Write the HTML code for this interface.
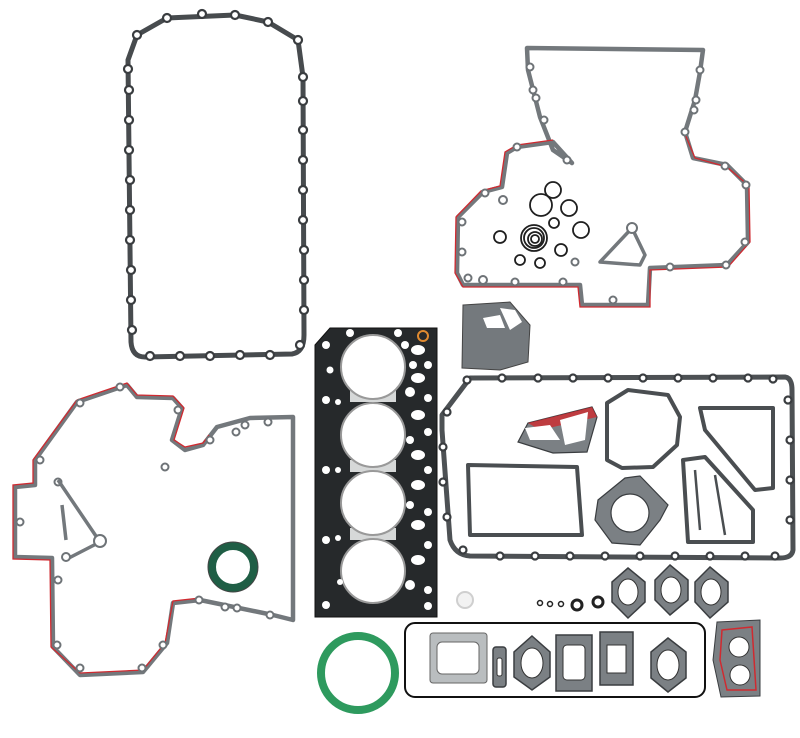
<!DOCTYPE html>
<html><head><meta charset="utf-8"><style>
html,body{margin:0;padding:0;background:#fff;width:800px;height:738px;overflow:hidden}
svg{display:block}
</style></head><body>
<svg width="800" height="738" viewBox="0 0 800 738" xmlns="http://www.w3.org/2000/svg">
<defs>
<style>
.g{fill:none;stroke:#474b4e;stroke-width:5;stroke-linejoin:round}
.gi{fill:none;stroke:#73787c;stroke-width:4.5;stroke-linejoin:round}
.r{fill:none;stroke:#d02a30;stroke-width:1.3}
.h{fill:#fff;stroke:#3a3d40;stroke-width:2.2}
.hs{fill:#fff;stroke:#6e7377;stroke-width:2}
.pl{fill:#7b8084;stroke:#3a3d40;stroke-width:1.5}
</style>
</defs>

<!-- Oil pan gasket top-left -->
<path class="g" d="M137,35 L167,18 L235,15 L268,22 L298,40 L303,77 L304,335 Q304,352 292,354 L145,357 Q132,357 131,342 L128,60 Z"/>
<g class="h">
<circle cx="137" cy="35" r="4"/><circle cx="167" cy="18" r="4"/><circle cx="202" cy="14" r="4"/><circle cx="235" cy="15" r="4"/><circle cx="268" cy="22" r="4"/><circle cx="298" cy="40" r="4"/>
<circle cx="303" cy="77" r="4"/><circle cx="303" cy="101" r="4"/><circle cx="303" cy="130" r="4"/><circle cx="303" cy="160" r="4"/><circle cx="303" cy="190" r="4"/><circle cx="303" cy="220" r="4"/><circle cx="304" cy="250" r="4"/><circle cx="304" cy="280" r="4"/><circle cx="304" cy="310" r="4"/><circle cx="300" cy="345" r="4"/>
<circle cx="270" cy="355" r="4"/><circle cx="240" cy="355" r="4"/><circle cx="210" cy="356" r="4"/><circle cx="180" cy="356" r="4"/><circle cx="150" cy="356" r="4"/>
<circle cx="132" cy="330" r="4"/><circle cx="131" cy="300" r="4"/><circle cx="131" cy="270" r="4"/><circle cx="130" cy="240" r="4"/><circle cx="130" cy="210" r="4"/><circle cx="130" cy="180" r="4"/><circle cx="129" cy="150" r="4"/><circle cx="129" cy="120" r="4"/><circle cx="129" cy="90" r="4"/><circle cx="128" cy="69" r="4"/>
</g>

<!-- Top-right timing cover gasket -->
<path class="gi" d="M527,48 L703,50 L700,72 L695,100 L685,132 L693,158 L727,165 L747,185 L748,242 L727,265 L650,268 L648,305 L582,305 L580,285 L463,285 L457,273 L458,217 L483,192 L502,187 L507,153 L517,147 L553,142 L572,163 L553,150 L540,117 L528,70 Z"/>
<path class="r" d="M685,134 L695,158 L727,167 L749,186 L750,242 L728,267 L650,270 L650,307 L580,307 L578,287 L463,287 L455,273 L456,217 L481,191 L500,186 L505,152 L517,145 L553,140"/>
<g class="hs">
<circle cx="530" cy="67" r="3.5"/><circle cx="533" cy="90" r="3.5"/><circle cx="536" cy="98" r="3.5"/><circle cx="544" cy="120" r="3.5"/><circle cx="567" cy="160" r="3.5"/><circle cx="517" cy="147" r="3.5"/><circle cx="485" cy="193" r="3.5"/><circle cx="503" cy="200" r="4"/><circle cx="462" cy="222" r="3.5"/><circle cx="462" cy="252" r="3.5"/><circle cx="468" cy="278" r="3.5"/><circle cx="483" cy="280" r="4"/><circle cx="515" cy="282" r="3.5"/><circle cx="563" cy="282" r="3.5"/><circle cx="575" cy="262" r="3.5"/>
<circle cx="700" cy="70" r="3.5"/><circle cx="696" cy="100" r="3.5"/><circle cx="694" cy="110" r="3.5"/><circle cx="685" cy="132" r="3.5"/><circle cx="725" cy="166" r="3.5"/><circle cx="746" cy="185" r="3.5"/><circle cx="745" cy="242" r="3.5"/><circle cx="726" cy="265" r="3.5"/><circle cx="670" cy="267" r="3.5"/><circle cx="613" cy="300" r="3.5"/>
</g>
<g fill="none" stroke="#1f1f1f" stroke-width="1.8">
<circle cx="553" cy="190" r="8"/><circle cx="541" cy="205" r="11"/><circle cx="569" cy="208" r="8"/><circle cx="554" cy="223" r="5"/><circle cx="581" cy="230" r="8"/><circle cx="500" cy="237" r="6"/><circle cx="520" cy="260" r="5"/><circle cx="540" cy="263" r="5"/><circle cx="561" cy="250" r="6"/>
<circle cx="534" cy="238" r="13"/><circle cx="534" cy="238" r="10"/><circle cx="535" cy="239" r="7"/><circle cx="535" cy="239" r="4"/>
</g>
<path class="gi" style="stroke-width:3.5" d="M600,262 L632,228 L645,255 L640,265 Z"/><circle class="hs" cx="632" cy="228" r="5"/>

<!-- small plate -->
<path d="M463,305 L510,302 L530,325 L528,362 L500,370 L462,368 Z" fill="#74797d" stroke="#444" stroke-width="1"/>
<path d="M483,318 L500,315 L505,328 L487,328 Z" fill="#fff"/>
<path d="M500,308 L515,310 L522,322 L510,330 Z" fill="#fff"/>

<!-- Head gasket -->
<path d="M330,328 L437,328 L437,617 L315,617 L315,345 Z" fill="#26292b" stroke="#111" stroke-width="1"/>
<g fill="#d6d8d8"><rect x="350" y="390" width="46" height="12"/><rect x="350" y="460" width="46" height="12"/><rect x="350" y="528" width="46" height="12"/></g>
<g fill="#fff" stroke="#999" stroke-width="2">
<circle cx="373" cy="367" r="32"/><circle cx="373" cy="435" r="32"/><circle cx="373" cy="503" r="32"/><circle cx="373" cy="571" r="32"/>
</g>
<g fill="#fff">
<circle cx="326" cy="345" r="4"/><circle cx="330" cy="370" r="3.5"/><circle cx="326" cy="400" r="4"/><circle cx="326" cy="470" r="4"/><circle cx="326" cy="540" r="4"/><circle cx="326" cy="605" r="4"/>
<circle cx="350" cy="333" r="4"/><circle cx="398" cy="333" r="4"/><circle cx="405" cy="345" r="4"/>
<ellipse cx="418" cy="350" rx="7" ry="5"/><circle cx="413" cy="365" r="4"/><circle cx="428" cy="365" r="4"/><ellipse cx="418" cy="378" rx="7" ry="5"/><circle cx="410" cy="392" r="5"/><circle cx="428" cy="398" r="4"/><ellipse cx="418" cy="415" rx="7" ry="5"/><circle cx="428" cy="432" r="4"/><circle cx="410" cy="440" r="4"/><ellipse cx="418" cy="455" rx="7" ry="5"/><circle cx="428" cy="470" r="4"/><ellipse cx="418" cy="485" rx="7" ry="5"/><circle cx="410" cy="505" r="4"/><circle cx="428" cy="512" r="4"/><ellipse cx="418" cy="525" rx="7" ry="5"/><circle cx="428" cy="545" r="4"/><ellipse cx="418" cy="560" rx="7" ry="5"/><circle cx="410" cy="585" r="5"/><circle cx="428" cy="590" r="4"/><circle cx="428" cy="606" r="4"/>
<circle cx="338" cy="402" r="3"/><circle cx="338" cy="470" r="3"/><circle cx="338" cy="538" r="3"/><circle cx="340" cy="582" r="3"/>
</g>
<circle cx="423" cy="336" r="5" fill="none" stroke="#e08a30" stroke-width="2"/>

<!-- Lower-right oil pan gasket -->
<path class="g" style="stroke:#4d5154;stroke-width:5" d="M470,378 L785,377 Q792,378 792,390 L793,550 Q792,558 780,558 L470,556 Q455,555 450,540 L442,430 L442,415 Z"/>
<g class="h">
<circle cx="502" cy="378" r="3.5"/><circle cx="538" cy="378" r="3.5"/><circle cx="573" cy="378" r="3.5"/><circle cx="608" cy="378" r="3.5"/><circle cx="643" cy="378" r="3.5"/><circle cx="678" cy="378" r="3.5"/><circle cx="713" cy="378" r="3.5"/><circle cx="748" cy="378" r="3.5"/><circle cx="773" cy="379" r="3.5"/>
<circle cx="467" cy="380" r="3.5"/><circle cx="447" cy="412" r="3.5"/><circle cx="443" cy="447" r="3.5"/><circle cx="443" cy="482" r="3.5"/><circle cx="447" cy="517" r="3.5"/><circle cx="463" cy="550" r="3.5"/>
<circle cx="500" cy="556" r="3.5"/><circle cx="535" cy="556" r="3.5"/><circle cx="570" cy="556" r="3.5"/><circle cx="605" cy="556" r="3.5"/><circle cx="640" cy="556" r="3.5"/><circle cx="675" cy="556" r="3.5"/><circle cx="710" cy="556" r="3.5"/><circle cx="745" cy="556" r="3.5"/><circle cx="775" cy="556" r="3.5"/>
<circle cx="788" cy="400" r="3.5"/><circle cx="790" cy="440" r="3.5"/><circle cx="790" cy="480" r="3.5"/><circle cx="790" cy="520" r="3.5"/>
</g>
<!-- inner gaskets -->
<path d="M518,442 L528,423 L592,407 L597,417 L587,452 L553,453 Z" fill="#7b8084" stroke="#3a3d40" stroke-width="1.2"/>
<path d="M528,423 L592,407 L597,417 L540,430 Z" fill="#d02a30" opacity="0.8"/>
<path d="M525,428 L550,425 L560,440 L530,440 Z" fill="#fff"/><path d="M560,420 L588,412 L585,440 L565,445 Z" fill="#fff"/>
<path class="gi" style="stroke:#4a4e51;stroke-width:4" d="M628,390 L668,395 L680,417 L677,445 L653,467 L622,468 L607,460 L607,403 Z"/>
<path class="gi" style="stroke:#4a4e51;stroke-width:4" d="M468,465 L577,467 L582,535 L470,535 Z"/>
<path d="M625,478 L640,476 L668,505 L660,520 L640,545 L612,543 L595,520 L598,500 Z" fill="#7b8084" stroke="#3a3d40" stroke-width="1.2"/>
<circle cx="630" cy="513" r="19" fill="#fff" stroke="#3a3d40" stroke-width="1.2"/>
<path class="gi" style="stroke:#4a4e51;stroke-width:4" d="M700,408 L773,408 L773,488 L755,490 L705,430 Z"/>
<path class="gi" style="stroke:#4a4e51;stroke-width:4" d="M683,460 L705,457 L753,510 L753,542 L688,542 Z"/>
<path class="gi" style="stroke:#4a4e51;stroke-width:2.5" d="M695,470 L700,530 M715,475 L725,535"/>

<!-- Left timing gasket -->
<path class="gi" d="M127,385 L137,397 L173,398 L182,408 L172,440 L185,450 L203,445 L217,427 L250,418 L293,417 L293,620 L273,615 L200,600 L173,603 L167,643 L143,672 L80,675 L53,647 L52,558 L15,557 L15,487 L35,485 L35,460 L77,402 Z"/>
<path class="r" d="M77,400 L127,383 L137,395 L173,396 L184,408 L174,440 L185,447 L203,443 L209,435"/>
<path class="r" d="M200,598 L173,601 L165,643 L143,670 L80,673 L51,647 L50,560 L13,559 L13,485 L33,483 L33,460 L77,400"/>
<g class="hs">
<circle cx="80" cy="403" r="3.5"/><circle cx="120" cy="387" r="3.5"/><circle cx="178" cy="410" r="3.5"/><circle cx="165" cy="467" r="3.5"/><circle cx="210" cy="440" r="3.5"/><circle cx="236" cy="432" r="3.5"/><circle cx="245" cy="425" r="3.5"/><circle cx="268" cy="422" r="3.5"/>
<circle cx="40" cy="460" r="3.5"/><circle cx="20" cy="522" r="3.5"/><circle cx="58" cy="482" r="3.5"/><circle cx="58" cy="580" r="3.5"/><circle cx="57" cy="645" r="3.5"/><circle cx="80" cy="668" r="3.5"/><circle cx="142" cy="668" r="3.5"/><circle cx="163" cy="645" r="3.5"/>
<circle cx="199" cy="600" r="3.5"/><circle cx="225" cy="607" r="3.5"/><circle cx="237" cy="608" r="3.5"/><circle cx="270" cy="615" r="3.5"/>
</g>
<path class="gi" style="stroke-width:3.5" d="M58,480 L100,542 L65,560 M62,505 L66,540"/>
<circle class="hs" cx="100" cy="541" r="6"/><circle class="hs" cx="66" cy="557" r="4"/>
<!-- green seal -->
<circle cx="233" cy="567" r="21" fill="none" stroke="#1f5e45" stroke-width="8"/>
<circle cx="233" cy="567" r="25" fill="none" stroke="#444" stroke-width="1"/>
<!-- big green ring -->
<circle cx="358" cy="673" r="37" fill="none" stroke="#2e9a5e" stroke-width="8"/>
<circle cx="465" cy="600" r="8" fill="#f2f2f2" stroke="#cfcfcf" stroke-width="2"/>
<g fill="none" stroke="#222" stroke-width="1.5"><circle cx="540" cy="603" r="2.5"/><circle cx="550" cy="604" r="2.5"/><circle cx="561" cy="604" r="2.5"/></g>
<circle cx="577" cy="605" r="5" fill="none" stroke="#222" stroke-width="3"/><circle cx="598" cy="602" r="5" fill="none" stroke="#222" stroke-width="3"/>

<!-- diamond flanges -->
<g class="pl">
<path d="M628,568 L645,582 L645,602 L628,618 L612,602 L612,582 Z"/>
<path d="M670,565 L688,580 L688,600 L670,615 L655,600 L655,580 Z"/>
<path d="M710,567 L728,582 L728,602 L710,618 L695,602 L695,582 Z"/>
</g>
<g fill="#fff" stroke="#333" stroke-width="1"><ellipse cx="628" cy="592" rx="10" ry="13"/><ellipse cx="671" cy="590" rx="10" ry="13"/><ellipse cx="711" cy="592" rx="10" ry="13"/></g>

<!-- bottom long rounded rect -->
<rect x="405" y="623" width="300" height="74" rx="10" fill="none" stroke="#111" stroke-width="2"/>
<rect x="430" y="633" width="57" height="50" rx="3" fill="#b9bdbf" stroke="#666" stroke-width="1"/><rect x="437" y="642" width="42" height="32" rx="5" fill="#fff" stroke="#666"/>
<g class="pl">
<rect x="493" y="647" width="13" height="40" rx="3"/>
<path d="M532,636 L550,652 L550,677 L532,690 L514,677 L514,652 Z"/>
<rect x="556" y="635" width="36" height="56"/>
<rect x="600" y="632" width="33" height="53"/>
<path d="M668,638 L686,652 L686,678 L668,692 L651,678 L651,652 Z"/>
</g>
<g fill="#fff" stroke="#333" stroke-width="1"><rect x="497" y="658" width="5" height="18" rx="2"/><ellipse cx="532" cy="663" rx="11" ry="15"/><rect x="563" y="645" width="22" height="35" rx="4"/><rect x="607" y="645" width="19" height="28"/><ellipse cx="668" cy="665" rx="11" ry="15"/></g>
<!-- red bordered small gasket -->
<path d="M717,622 L760,620 L760,696 L721,697 L713,660 Z" fill="#7b8084" stroke="#3a3d40" stroke-width="1"/>
<path d="M722,630 L752,627 L756,690 L727,690 L720,660 Z" fill="none" stroke="#d02a30" stroke-width="1.5"/>
<g fill="#fff" stroke="#333"><circle cx="739" cy="647" r="10"/><circle cx="740" cy="675" r="10"/></g>
</svg>
</body></html>
